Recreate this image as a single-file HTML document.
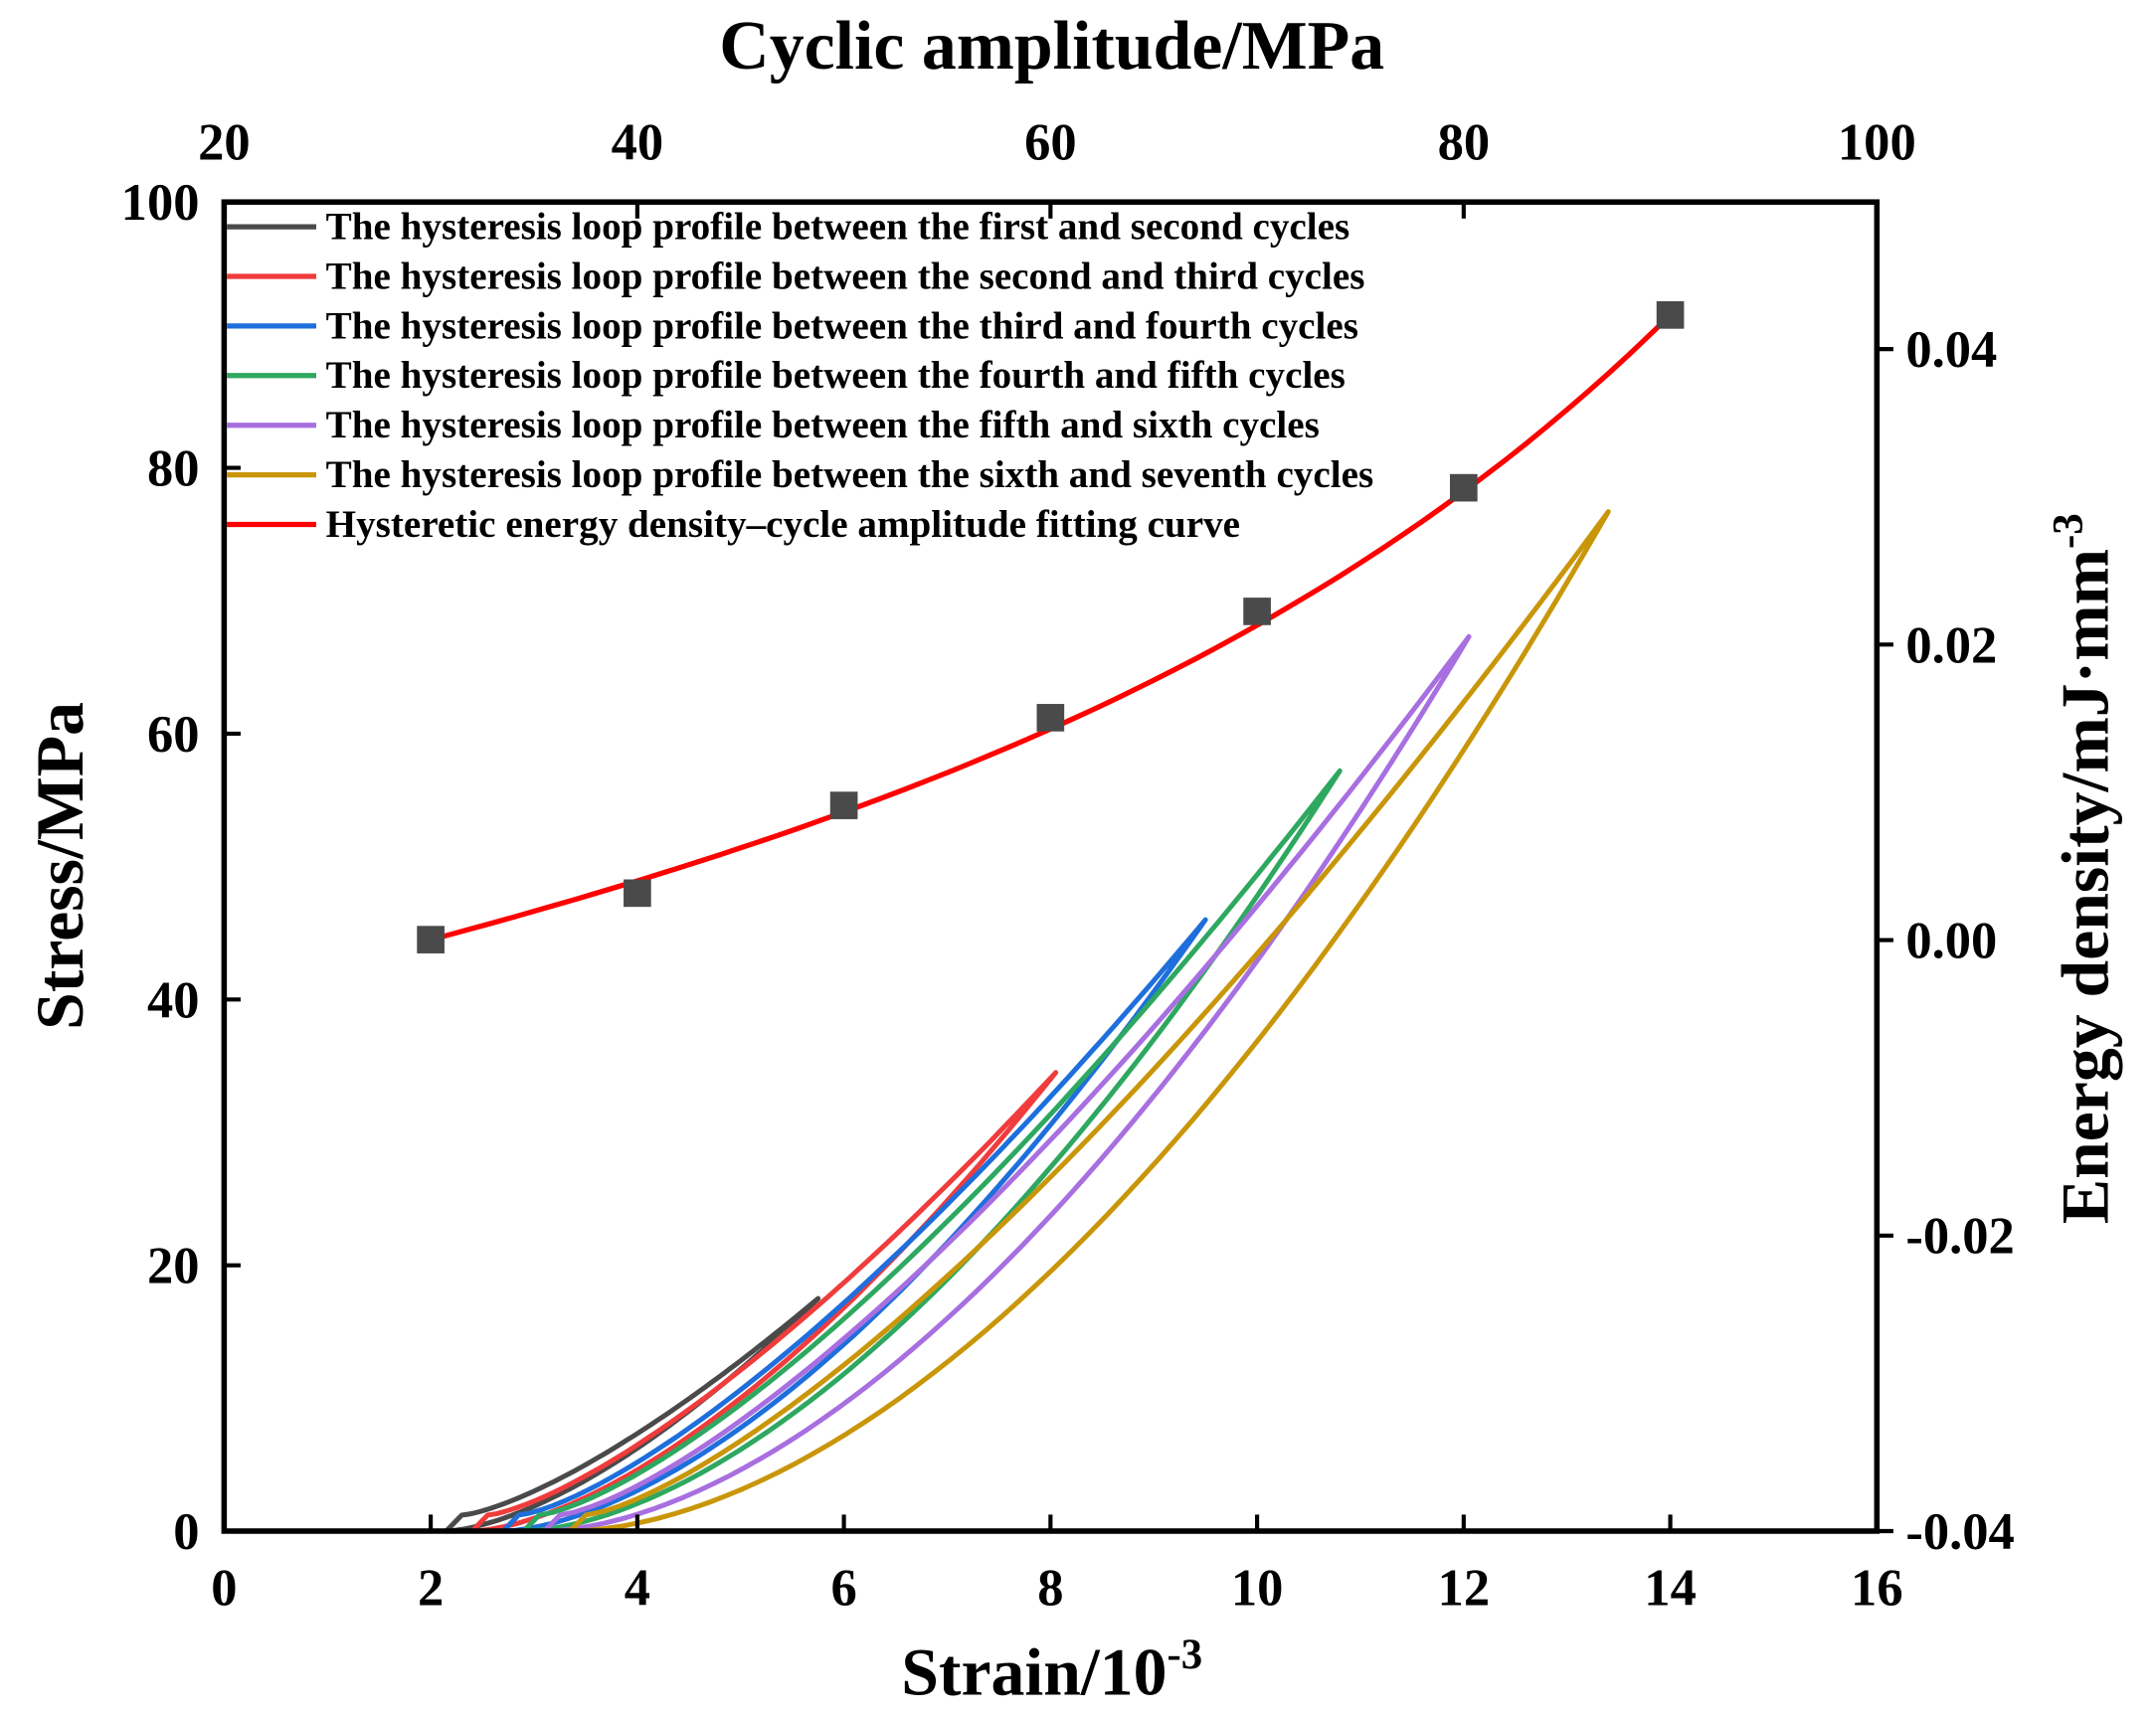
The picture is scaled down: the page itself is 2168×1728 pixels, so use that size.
<!DOCTYPE html>
<html><head><meta charset="utf-8"><style>
html,body{margin:0;padding:0;background:#fff}
svg{display:block}
text{font-family:"Liberation Serif",serif;font-weight:bold;fill:#000}
</style></head><body>
<svg width="2168" height="1728" viewBox="0 0 1568 1250" preserveAspectRatio="none" xmlns="http://www.w3.org/2000/svg">
<rect width="1568" height="1250" fill="#fff"/>
<g id="loops" fill="none" stroke-width="3.6" stroke-linejoin="round" stroke-linecap="round"></g>
<path id="fit" fill="none" stroke="#ff0000" stroke-width="3.8"/>
<g id="marks" fill="#4a4a4a"></g>
<rect x="163" y="147" width="1202" height="967" fill="none" stroke="#000" stroke-width="4"/>
<g id="ticks" stroke="#000" stroke-width="3"></g>
<g id="labels"></g>
<g id="legend"></g>
<text x="765" y="50" font-size="50.5" text-anchor="middle">Cyclic amplitude/MPa</text>
<text x="765" y="1233" font-size="49" text-anchor="middle">Strain/10<tspan font-size="31" dy="-19">-3</tspan></text>
<text transform="translate(60,630) rotate(-90)" font-size="49" text-anchor="middle">Stress/MPa</text>
<text transform="translate(1533,632) rotate(-90)" font-size="49" text-anchor="middle">Energy density/mJ·mm<tspan font-size="31" dy="-19">-3</tspan></text>
</svg>
<script>
const NS="http://www.w3.org/2000/svg";
const X=s=>163+s*75.125, Y=v=>1114-v*9.67;
function el(p,t,a,txt){const e=document.createElementNS(NS,t);for(const k in a)e.setAttribute(k,a[k]);if(txt!==undefined)e.textContent=txt;document.getElementById(p).appendChild(e);return e;}
const loops=[["#4a4a4a",2.15,5.75,17.5],["#f03c3c",2.4,8.05,34.5],["#1e6fdc",2.7,9.5,46],["#2ea860",2.9,10.8,57.2],["#a86fe0",3.1,12.05,67.3],["#c9960a",3.35,13.4,76.7]];
loops.forEach(([c,x0,xp,yp],i)=>{
 const w=xp-x0, pl=1.55+0.045*i, pu=1.38;
 let d=`M${X(x0)},${Y(0)}`;
 for(let k=1;k<=60;k++){const f=k/60;d+=`L${X(x0+f*w).toFixed(1)},${Y(yp*Math.pow(f,pl)).toFixed(1)}`;}
 for(let k=59;k>=0;k--){const f=k/60;const xx=x0+0.15+f*(w-0.15);const yy=1.2+(yp-1.2)*Math.pow(f,pu);d+=`L${X(xx).toFixed(1)},${Y(yy).toFixed(1)}`;}
 d+=`L${X(x0)},${Y(0)}`;
 el("loops","path",{d,stroke:c});
});
const ER=e=>684-e/0.02*215;
const A=a=>163+(a-20)*15.025;
const pts=[[30,44.5],[40,48],[50,54.6],[60,61.2],[70,69.2],[80,78.5],[90,91.5]];
const f=a=>{const t=(a-30)/60;return 44.5+ 47*(0.35*t+0.65*(Math.exp(2.2*t)-1)/(Math.exp(2.2)-1));};
let d="";
for(let a=30;a<=90.01;a+=1){d+=(d?"L":"M")+A(a).toFixed(1)+","+Y(f(a)).toFixed(1);}
document.getElementById("fit").setAttribute("d",d);
pts.forEach(([a,v])=>el("marks","rect",{x:A(a)-10,y:Y(v)-10,width:20,height:20}));
for(let s=0;s<=16;s+=2){el("ticks","line",{x1:X(s),x2:X(s),y1:1114,y2:1102});el("labels","text",{x:X(s),y:1168,"font-size":38,"text-anchor":"middle"},s);}
for(let v=0;v<=100;v+=20){el("ticks","line",{x1:163,x2:175,y1:Y(v),y2:Y(v)});el("labels","text",{x:145,y:Y(v)+13,"font-size":38,"text-anchor":"end"},v);}
for(let a=20;a<=100;a+=20){el("ticks","line",{x1:A(a),x2:A(a),y1:147,y2:159});el("labels","text",{x:A(a),y:116,"font-size":38,"text-anchor":"middle"},a);}
[[0.04,"0.04"],[0.02,"0.02"],[0,"0.00"],[-0.02,"-0.02"],[-0.04,"-0.04"]].forEach(([e,t])=>{el("ticks","line",{x1:1365,x2:1377,y1:ER(e),y2:ER(e)});el("labels","text",{x:1386,y:ER(e)+13,"font-size":38},t);});
const leg=[["#4a4a4a","The hysteresis loop profile between the first and second cycles"],["#f03c3c","The hysteresis loop profile between the second and third cycles"],["#1e6fdc","The hysteresis loop profile between the third and fourth cycles"],["#2ea860","The hysteresis loop profile between the fourth and fifth cycles"],["#a86fe0","The hysteresis loop profile between the fifth and sixth cycles"],["#c9960a","The hysteresis loop profile between the sixth and seventh cycles"],["#ff0000","Hysteretic energy density\u2013cycle amplitude fitting curve"]];
leg.forEach(([c,t],i)=>{const y=165+i*36.1;el("legend","line",{x1:165,x2:230,y1:y,y2:y,stroke:c,"stroke-width":3.8});el("legend","text",{x:237,y:y+9,"font-size":28.3},t);});
</script>
</body></html>
